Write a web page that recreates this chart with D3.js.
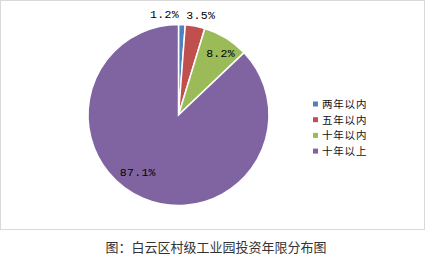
<!DOCTYPE html>
<html>
<head>
<meta charset="utf-8">
<script src="https://cdn.jsdelivr.net/npm/d3@7"></script>
<style>
  html, body { margin: 0; padding: 0; background: #fff; }
</style>
</head>
<body>
<svg id="chart" width="425" height="259"></svg>
<script>
const categories = ['两年以内', '五年以内', '十年以内', '十年以上'];
const shares = [1.2, 3.5, 8.2, 87.1];
const pctLabels = ['1.2%', '3.5%', '8.2%', '87.1%'];
const colors = ['#4F81BD', '#C0504D', '#9BBB59', '#8064A2'];

const svg = d3.select('#chart');
const width = 425, height = 259;

// chart frame
svg.append('rect')
  .attr('x', 0.5).attr('y', 0.5)
  .attr('width', width - 1).attr('height', 229)
  .attr('fill', '#fff').attr('stroke', '#d9d9d9');

const cx = 178.5, cy = 115, r = 90.5;
const data = categories.map((c, i) => ({ cat: c, v: shares[i], label: pctLabels[i], color: colors[i] }));

const pie = d3.pie().value(d => d.v).sort(null);
const arc = d3.arc().innerRadius(0).outerRadius(r);
const arcs = pie(data);

const g = svg.append('g').attr('transform', `translate(${cx},${cy})`);
g.selectAll('path').data(arcs).enter().append('path')
  .attr('d', arc)
  .attr('fill', d => d.data.color)
  .attr('stroke', '#fff')
  .attr('stroke-width', 1.5);

// data labels: small slices outside, larger ones inside
const labelPos = [
  d3.arc().innerRadius(r + 14).outerRadius(r + 14),
  d3.arc().innerRadius(r + 14).outerRadius(r + 14),
  d3.arc().innerRadius(r * 0.78).outerRadius(r * 0.78),
  d3.arc().innerRadius(r * 0.72).outerRadius(r * 0.72)
];
const labelShift = [[-18, 3], [3, 3], [5, -2], [-15, -3]];
g.selectAll('text.lbl').data(arcs).enter().append('text')
  .attr('class', 'lbl')
  .attr('transform', (d, i) => {
    const p = labelPos[i].centroid(d);
    return `translate(${p[0] + labelShift[i][0]},${p[1] + labelShift[i][1]})`;
  })
  .attr('text-anchor', 'middle')
  .attr('dy', '0.35em')
  .attr('font-family', '"Liberation Mono", "DejaVu Sans Mono", monospace')
  .attr('font-size', 11.5)
  .attr('letter-spacing', 0.3)
  .attr('fill', '#000')
  .text(d => d.data.label);

// legend
const legend = svg.append('g').attr('transform', 'translate(313,104)');
const row = legend.selectAll('g').data(data).enter().append('g')
  .attr('transform', (d, i) => `translate(0,${i * 15.7})`);
row.append('rect')
  .attr('x', 0).attr('y', -2.5)
  .attr('width', 5).attr('height', 5)
  .attr('fill', d => d.color);
row.append('text')
  .attr('x', 9).attr('dy', '0.38em')
  .attr('font-family', '"Noto Sans CJK SC", sans-serif')
  .attr('font-size', 10.5)
  .attr('letter-spacing', 0.8)
  .attr('fill', '#111')
  .text(d => d.cat);

// caption
svg.append('text')
  .attr('x', 216).attr('y', 247)
  .attr('text-anchor', 'middle')
  .attr('dy', '0.35em')
  .attr('font-family', '"Noto Sans CJK SC", sans-serif')
  .attr('font-size', 13)
  .attr('fill', '#333')
  .text('图：白云区村级工业园投资年限分布图');
</script>
</body>
</html>
